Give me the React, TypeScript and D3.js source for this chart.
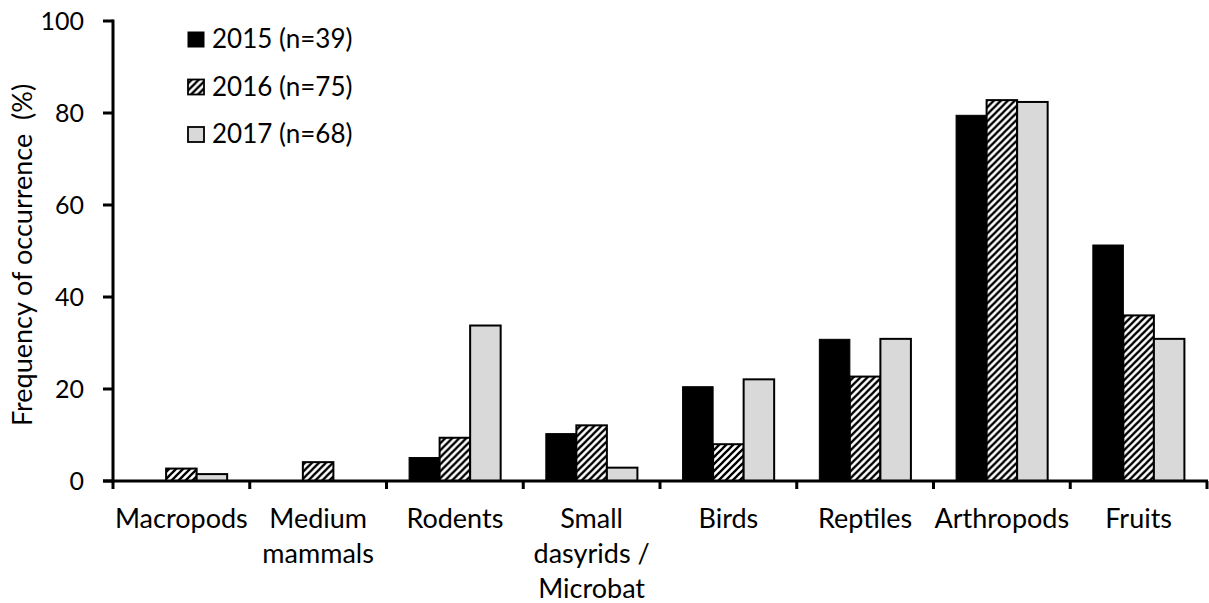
import React from "react";
import * as d3 from "d3";

const categories = ["Macropods", "Medium mammals", "Rodents", "Small dasyrids / Microbat", "Birds", "Reptiles", "Arthropods", "Fruits"];
const categoryLines = [["Macropods"], ["Medium", "mammals"], ["Rodents"], ["Small", "dasyrids /", "Microbat"], ["Birds"], ["Reptiles"], ["Arthropods"], ["Fruits"]];
const seriesNames = ["2015 (n=39)", "2016 (n=75)", "2017 (n=68)"];
const values2015 = [0, 0, 5.1, 10.3, 20.5, 30.8, 79.5, 51.3];
const values2016 = [2.7, 4.1, 9.4, 12.1, 8.0, 22.7, 82.8, 36.0];
const values2017 = [1.5, 0, 33.8, 2.9, 22.1, 30.9, 82.4, 30.9];
const yTicks = [0, 20, 40, 60, 80, 100];

const FONT = "Lato, 'Open Sans', sans-serif";

export default function App() {
  const W = 1209, H = 603;
  const left = 113, right = 1207, top = 21, bottom = 481;
  const y = d3.scaleLinear().domain([0, 100]).range([bottom, top]);
  const x0 = d3.scaleBand<string>().domain(categories).range([left, right]).padding(0);
  const x1 = d3.scaleBand<string>().domain(seriesNames).range([0, x0.bandwidth()]).paddingInner(0).paddingOuter(0.74);
  const seriesValues = [values2015, values2016, values2017];
  const fills = ["#000000", "url(#hatch)", "#d9d9d9"];

  const boundaries = d3.range(categories.length + 1).map((i) => left + i * x0.step());

  return (
    <svg width={W} height={H} style={{ position: "absolute", left: 0, top: 0, background: "#fff" }}>
      <defs>
        <pattern id="hatch" patternUnits="userSpaceOnUse" width="7" height="7">
          <rect width="7" height="7" fill="#fff" />
          <path d="M-1,1 L1,-1 M0,7 L7,0 M6,8 L8,6" stroke="#000" strokeWidth="2.3" />
        </pattern>
      </defs>
      {/* bars */}
      {categories.map((c, ci) => (
        <g key={c} transform={`translate(${x0(c)},0)`}>
          {seriesNames.map((s, si) => {
            const v = seriesValues[si][ci];
            if (!v) return null;
            return (
              <rect
                key={s}
                x={x1(s)}
                y={y(v)}
                width={x1.bandwidth()}
                height={y(0) - y(v)}
                fill={fills[si]}
                stroke="#000"
                strokeWidth={si === 0 ? 1 : 2}
              />
            );
          })}
        </g>
      ))}
      {/* y axis */}
      <line x1={left} x2={left} y1={top - 1.5} y2={bottom + 1.5} stroke="#000" strokeWidth={3} />
      {yTicks.map((t) => (
        <g key={t}>
          <line x1={left - 10} x2={left} y1={y(t)} y2={y(t)} stroke="#000" strokeWidth={3} />
          <text x={84} y={y(t)} dy="0.36em" textAnchor="end" fontFamily={FONT} fontSize={25} fill="#000">
            {t}
          </text>
        </g>
      ))}
      {/* x axis */}
      <line x1={left - 10} x2={right + 1} y1={bottom} y2={bottom} stroke="#000" strokeWidth={3} />
      {boundaries.map((b, i) => (
        <line key={i} x1={b} x2={b} y1={bottom} y2={bottom + 8} stroke="#000" strokeWidth={3} />
      ))}
      {categories.map((c, ci) => (
        <text key={c} textAnchor="middle" fontFamily={FONT} fontSize={27} fill="#000">
          {categoryLines[ci].map((ln, li) => (
            <tspan key={li} x={(x0(c) as number) + x0.bandwidth() / 2} y={528 + li * 35}>
              {ln}
            </tspan>
          ))}
        </text>
      ))}
      {/* y title */}
      <text
        transform={`translate(32,255) rotate(-90)`}
        textAnchor="middle"
        fontFamily={FONT}
        fontSize={27}
        fill="#000"
        style={{ whiteSpace: "pre" }}
      >
        {"Frequency of occurrence  (%)"}
      </text>
      {/* legend */}
      {seriesNames.map((s, si) => (
        <g key={s} transform={`translate(0,${si * 47.5})`}>
          <rect x={188} y={32} width={16} height={15} fill={fills[si]} stroke="#000" strokeWidth={si === 0 ? 1 : 1.8} />
          <text x={212} y={48} fontFamily={FONT} fontSize={26} fill="#000">
            {s}
          </text>
        </g>
      ))}
    </svg>
  );
}
